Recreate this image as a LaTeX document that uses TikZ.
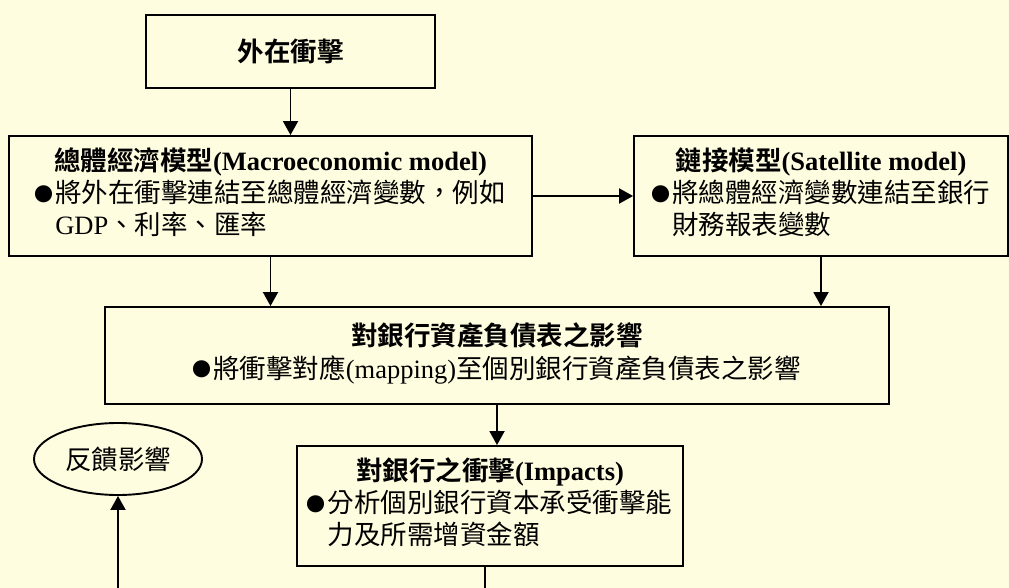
\documentclass[tikz,border=0pt]{standalone}
\usepackage{fontspec}
\setmainfont{Liberation Serif}
\newfontfamily\cjk{Noto Sans CJK TC}[BoldFont={Noto Sans CJK TC Bold}]
\usetikzlibrary{arrows.meta,shapes.geometric}
\newcommand{\zh}[1]{{\cjk #1}}
\newcommand{\blt}{\makebox[20pt][l]{\hspace{-1pt}\raisebox{1.5pt}{\cjk\fontsize{19}{19}\selectfont ●}}}
\definecolor{paper}{RGB}{255,253,224}
\tikzstyle{stage}=[rectangle, draw, line width=1.9pt, inner sep=0pt, font=\fontsize{26.5}{32}\selectfont]
\tikzstyle{feedback}=[ellipse, draw, line width=1.9pt, inner sep=0pt, font=\fontsize{26.5}{32}\selectfont]
\tikzstyle{post}=[-{Triangle[length=14pt,width=15pt]}, line width=1.9pt]

\begin{document}
\begin{tikzpicture}[x=1pt,y=-1pt]
  \fill[paper] (0,0) rectangle (1009,588);
  \useasboundingbox (0,0) rectangle (1009,588);

  \node[stage, minimum width=289pt, minimum height=73pt] (shock) at (290.5,51.5)
    {\bfseries\zh{外在衝擊}};
  \node[stage, minimum width=523pt, minimum height=120pt] (macro) at (270.5,196)
    {\begin{tabular}{@{}l@{}}
      \multicolumn{1}{@{}c@{}}{\bfseries\zh{總體經濟模型}(Macroeconomic model)}\\
      \blt\zh{將外在衝擊連結至總體經濟變數，例如}\\
      \phantom{\blt}GDP\zh{、利率、匯率}
    \end{tabular}};
  \node[stage, minimum width=374pt, minimum height=120pt] (sat) at (821,196)
    {\begin{tabular}{@{}l@{}}
      \multicolumn{1}{@{}c@{}}{\bfseries\zh{鏈接模型}(Satellite model)}\\
      \blt\zh{將總體經濟變數連結至銀行}\\
      \phantom{\blt}\zh{財務報表變數}
    \end{tabular}};
  \node[stage, minimum width=784pt, minimum height=97pt] (bs) at (497,355.5)
    {\begin{tabular}{@{}c@{}}
      {\bfseries\zh{對銀行資產負債表之影響}}\\
      \blt\zh{將衝擊對應}(mapping)\zh{至個別銀行資產負債表之影響}
    \end{tabular}};
  \node[stage, minimum width=386pt, minimum height=120pt] (impact) at (490,506)
    {\begin{tabular}{@{}l@{}}
      \multicolumn{1}{@{}c@{}}{\bfseries\zh{對銀行之衝擊}(Impacts)}\\
      \blt\zh{分析個別銀行資本承受衝擊能}\\
      \phantom{\blt}\zh{力及所需增資金額}
    \end{tabular}};
  \node[feedback, minimum width=168pt, minimum height=72pt] (fb) at (118,459)
    {\zh{反饋影響}};

  \coordinate (impacttail) at (485,588);
  \coordinate (fbtail) at (118,588);

  \draw[post] (shock.south) -- (shock.south |- macro.north);
  \draw[post] (macro.east) -- (sat.west);
  \draw[post] (macro.south) -- (macro.south |- bs.north);
  \draw[post] (sat.south) -- (sat.south |- bs.north);
  \draw[post] (bs.south) -- (bs.south |- impact.north);
  \draw[line width=1.9pt] (impact.south -| impacttail) -- (impacttail);
  \draw[post] (fbtail) -- (fb.south);
\end{tikzpicture}
\end{document}
